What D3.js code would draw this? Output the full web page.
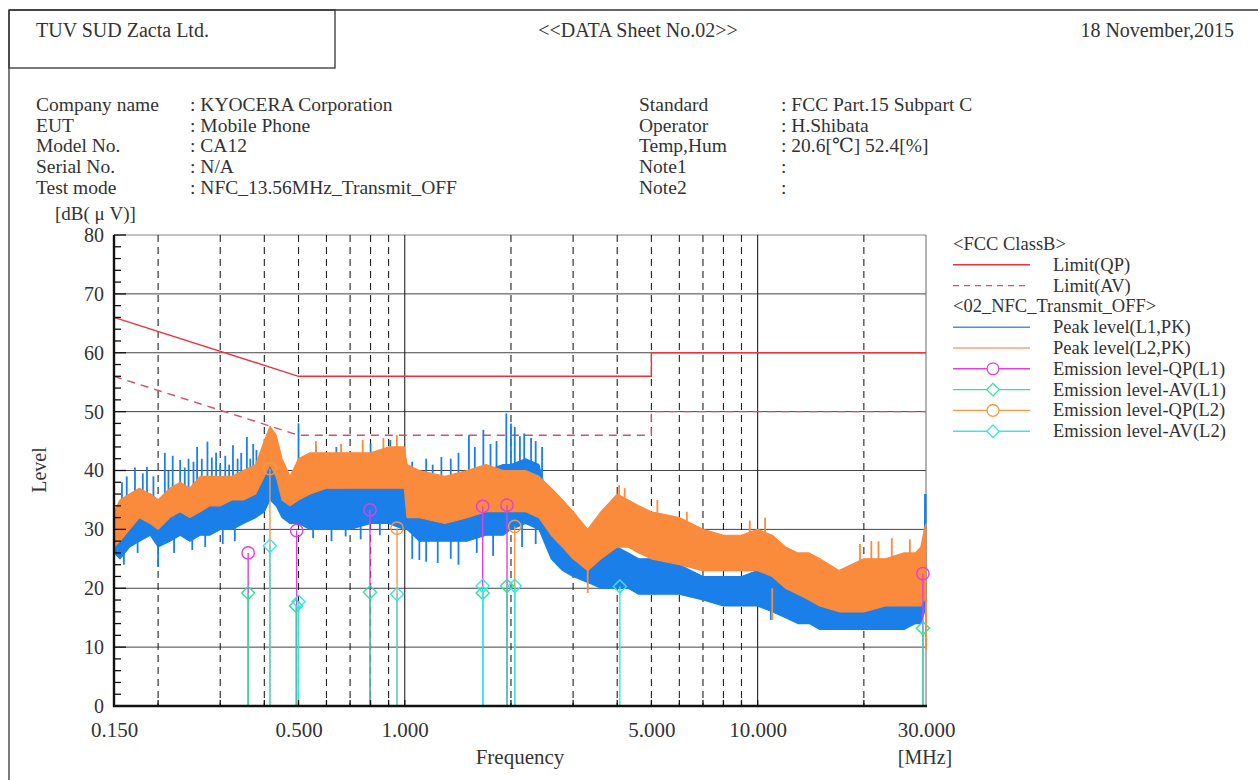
<!DOCTYPE html>
<html>
<head>
<meta charset="utf-8">
<script src="https://cdn.jsdelivr.net/npm/d3@7"></script>
<style>
  body { margin: 0; background: #fff; }
  svg text { font-family: "Liberation Serif", "DejaVu Serif", serif; fill: #333; }
</style>
</head>
<body>
<div id="chart"></div>
<script>
// ---- data read from the sheet ----
var yTicks = [0, 10, 20, 30, 40, 50, 60, 70, 80];
var xTicks = [0.15, 0.5, 1, 5, 10, 30];
var gridFreqs = [0.2, 0.3, 0.4, 0.5, 0.6, 0.7, 0.8, 0.9, 1, 2, 3, 4, 5, 6, 7, 8, 9, 10, 20];

// FCC class B limits
var limitFreq = [0.15, 0.5, 0.5, 5, 5, 30];
var limitQP = [66, 56, 56, 56, 60, 60];
var limitAV = [56, 46, 46, 46, 50, 50];

// envelope of the peak scans (upper / lower edge of the noise band)
var bandFreq = [0.150, 0.156, 0.166, 0.177, 0.190, 0.200, 0.216, 0.231, 0.246, 0.263, 0.280, 0.300,
  0.324, 0.349, 0.378, 0.400, 0.415, 0.432, 0.449, 0.473, 0.500, 0.539, 0.600, 0.700, 0.800, 0.900,
  0.997, 1.015, 1.10, 1.30, 1.50, 1.70, 1.90, 2.00, 2.20, 2.40, 2.60, 2.80, 3.00, 3.30, 3.60, 4.00,
  4.30, 4.60, 5.00, 6.00, 7.00, 8.00, 9.00, 10.0, 11.0, 12.0, 13.0, 14.0, 15.0, 17.0, 20.0, 23.0,
  26.0, 28.0, 29.0, 29.7, 30.0];
var l1Hi = [33, 34, 35, 36, 36, 35, 36, 37, 36, 37, 37, 37, 38, 38, 39, 41, 42, 40, 38, 37, 38, 37, 37, 37, 37.5, 38,
  38, 38, 37, 38, 39, 40, 41, 41, 42, 41, 33, 29, 27, 26, 26, 27, 26, 25, 25, 24, 22, 22, 22, 23, 22, 20, 19, 18,
  17, 17, 17, 17, 17, 17, 19, 30, 36];
var l1Lo = [26, 25, 27, 28, 29, 27, 28, 29, 28, 29, 29, 30, 30, 31, 32, 33, 35, 34, 32, 31, 31, 30, 30, 30, 31, 31,
  30, 30, 28, 28, 28, 29, 29, 30, 31, 30, 25, 23, 22, 21, 20, 20, 20, 19, 19, 19, 18, 17, 17, 17, 16, 15, 14, 14,
  13, 13, 13, 13, 13, 14, 14, 16, 18];
var l2Hi = [33, 35, 36, 37, 36, 35, 37, 38, 37, 39, 39, 39, 39, 40, 41, 45, 47.5, 46, 42, 39, 42, 43, 43, 43, 43, 44,
  44, 41, 40, 39, 40, 41, 40, 40, 40, 39, 37, 35, 33, 30, 33, 36, 35, 34, 33, 32, 30, 29, 29, 30, 29, 27, 26, 26,
  25, 23, 25, 25, 26, 26, 27, 30, 31];
var l2Lo = [27, 28, 30, 32, 31, 30, 32, 33, 32, 33, 34, 34, 35, 35, 36, 39, 41, 39, 35, 34, 35, 36, 37, 37, 37, 37,
  37, 32, 32, 31, 32, 33, 33, 33, 33, 32, 29, 27, 25, 23, 25, 27, 27, 26, 25, 24, 23, 23, 23, 23, 22, 20, 19, 18,
  17, 16, 16, 17, 17, 17, 17, 18, 18];

// single spikes sticking out of the band: [MHz, from dB, to dB]
var l1Spikes = [[0.158, 32, 38], [0.163, 32, 39], [0.172, 34, 40.5], [0.181, 34, 39.5], [0.186, 34, 40.6],
  [0.194, 34, 39], [0.209, 34, 43], [0.214, 34, 40], [0.220, 34, 42.5], [0.231, 35, 41.8], [0.238, 35, 40.5],
  [0.244, 35, 42], [0.252, 35, 41.5], [0.258, 35, 44], [0.266, 35, 42], [0.276, 35, 44.9], [0.284, 35, 42.2],
  [0.292, 35, 43], [0.300, 35, 41], [0.310, 36, 42.5], [0.318, 36, 41], [0.326, 36, 44.3], [0.336, 36, 42],
  [0.344, 36, 43], [0.357, 36, 45.7], [0.365, 36, 42], [0.372, 37, 44.5], [0.380, 37, 43.5], [0.388, 37, 42],
  [0.500, 37, 48], [0.560, 36, 44], [0.640, 36, 44], [0.800, 36, 44.6], [0.910, 37, 45.2],
  [1.05, 37, 41.5], [1.15, 36, 42], [1.20, 36, 41], [1.27, 37, 42.3], [1.35, 37, 42], [1.42, 37, 43],
  [1.52, 38, 46], [1.58, 38, 44], [1.67, 39, 46.9], [1.75, 39, 44.5], [1.82, 40, 45], [1.94, 40, 49.7],
  [2.00, 40, 48], [2.05, 40, 47.4], [2.12, 41, 45.8], [2.18, 41, 46.3], [2.28, 41, 45.5], [2.35, 40, 45],
  [2.45, 38, 44],
  // downward
  [0.160, 28, 24], [0.175, 29, 26], [0.200, 30, 23.6], [0.222, 30, 26], [0.250, 30, 26.5], [0.272, 30, 27],
  [0.305, 31, 27.5], [0.330, 31, 28], [0.550, 31, 28.5], [0.620, 31, 28], [0.680, 31, 28.8], [0.750, 31, 28.3],
  [0.850, 32, 29], [1.05, 31, 25], [1.10, 30, 24.8], [1.15, 30, 24.5], [1.24, 30, 24.3], [1.35, 30, 25],
  [1.42, 30, 24], [1.60, 30, 26], [1.78, 30, 25.5], [2.15, 32, 27], [2.35, 31, 27.5], [10.9, 17, 14.6],
  [29.8, 30, 36]];
var l2Spikes = [[0.56, 42, 45], [0.66, 42, 44.5], [0.76, 42, 45.2], [0.87, 43, 45.5], [0.95, 43, 46],
  [4.05, 35, 37.5], [4.20, 34, 37], [5.20, 32, 35], [6.30, 30, 33], [9.50, 28, 31.5], [10.5, 29, 32],
  [3.30, 24, 19.2], [11.0, 20, 14.6], [19.5, 24, 27.5], [21.0, 24, 28], [22.0, 24, 28], [24.0, 25, 28.5],
  [27.0, 25, 28.3], [30.0, 18, 9.5]];

// final measurements
var qpL1 = [[0.360, 26.0], [0.494, 29.8], [0.797, 33.3], [1.663, 33.9], [1.949, 34.1], [29.4, 22.5]];
var avL1 = [[0.360, 19.2], [0.492, 17.0], [0.797, 19.3], [1.663, 19.2], [1.949, 20.4], [29.4, 13.2]];
var qpL2 = [[0.415, 40.3], [0.951, 30.2], [2.050, 30.5]];
var avL2 = [[0.415, 27.2], [0.500, 17.7], [0.951, 19.0], [1.663, 20.4], [2.050, 20.4], [4.07, 20.3]];

var headerLeft = "TUV SUD Zacta Ltd.";
var headerMid = "<<DATA Sheet No.02>>";
var headerRight = "18 November,2015";
var infoLeft = [["Company name", ": KYOCERA Corporation"], ["EUT", ": Mobile Phone"], ["Model No.", ": CA12"],
  ["Serial No.", ": N/A"], ["Test mode", ": NFC_13.56MHz_Transmit_OFF"]];
var infoRight = [["Standard", ": FCC Part.15 Subpart C"], ["Operator", ": H.Shibata"],
  ["Temp,Hum", ": 20.6[\u2103] 52.4[%]"], ["Note1", ":"], ["Note2", ":"]];

var legendItems = [
  { title: "<FCC ClassB>" },
  { label: "Limit(QP)", color: "#e8343e", dash: null },
  { label: "Limit(AV)", color: "#d2506a", dash: "6,5" },
  { title: "<02_NFC_Transmit_OFF>" },
  { label: "Peak level(L1,PK)", color: "#4a92dc" },
  { label: "Peak level(L2,PK)", color: "#f0a878" },
  { label: "Emission level-QP(L1)", color: "#e040e0", mark: "circle" },
  { label: "Emission level-AV(L1)", color: "#30e29a", mark: "diamond" },
  { label: "Emission level-QP(L2)", color: "#f39a44", mark: "circle" },
  { label: "Emission level-AV(L2)", color: "#3fe3e3", mark: "diamond" }
];

// ---- drawing ----
var W = 1258, H = 780;
var svg = d3.select("#chart").append("svg").attr("width", W).attr("height", H);

var x = d3.scaleLog().domain([0.15, 30]).range([114, 926]);
var y = d3.scaleLinear().domain([0, 80]).range([706, 235]);

// page frame + header box
svg.append("line").attr("x1", 9).attr("y1", 10).attr("x2", W).attr("y2", 10).attr("stroke", "#333").attr("stroke-width", 1.3);
svg.append("line").attr("x1", 9).attr("y1", 10).attr("x2", 9).attr("y2", H).attr("stroke", "#333").attr("stroke-width", 1.3);
svg.append("rect").attr("x", 9).attr("y", 10).attr("width", 326).attr("height", 58)
  .attr("fill", "none").attr("stroke", "#333").attr("stroke-width", 1.3);

svg.append("text").attr("x", 36).attr("y", 37).style("font-size", "20px").text(headerLeft);
svg.append("text").attr("x", 638).attr("y", 37).attr("text-anchor", "middle").style("font-size", "20px").text(headerMid);
svg.append("text").attr("x", 1234).attr("y", 37).attr("text-anchor", "end").style("font-size", "20px").text(headerRight);

infoLeft.forEach(function (r, i) {
  svg.append("text").attr("x", 36).attr("y", 111 + i * 20.7).style("font-size", "19.5px").text(r[0]);
  svg.append("text").attr("x", 190).attr("y", 111 + i * 20.7).style("font-size", "19.5px").text(r[1]);
});
infoRight.forEach(function (r, i) {
  svg.append("text").attr("x", 639).attr("y", 111 + i * 20.7).style("font-size", "19.5px").text(r[0]);
  svg.append("text").attr("x", 781).attr("y", 111 + i * 20.7).style("font-size", "19.5px").text(r[1]);
});
svg.append("text").attr("x", 55).attr("y", 220).style("font-size", "19px").text("[dB( \u03bc V)]");

// grid
var plot = svg.append("g");
plot.selectAll(".hgrid").data(yTicks).enter().append("line")
  .attr("x1", 114).attr("x2", 926)
  .attr("y1", function (d) { return y(d); }).attr("y2", function (d) { return y(d); })
  .attr("stroke", function (d) { return d === 80 ? "#888" : "#444"; }).attr("stroke-width", 1);
plot.selectAll(".vgrid").data(gridFreqs).enter().append("line")
  .attr("x1", function (d) { return x(d); }).attr("x2", function (d) { return x(d); })
  .attr("y1", 235).attr("y2", 706)
  .attr("stroke", "#222").attr("stroke-width", 1.1)
  .attr("stroke-dasharray", function (d) { return (d === 1 || d === 10) ? null : "7,5"; });
plot.append("line").attr("x1", 926).attr("x2", 926).attr("y1", 235).attr("y2", 706).attr("stroke", "#666");

// limits
var limLine = d3.line().x(function (d, i) { return x(limitFreq[i]); });
plot.append("path").datum(limitQP).attr("fill", "none").attr("stroke", "#e8343e").attr("stroke-width", 1.4)
  .attr("d", limLine.y(function (d) { return y(d); }));
plot.append("path").datum(limitAV).attr("fill", "none").attr("stroke", "#d2506a").attr("stroke-width", 1.4)
  .attr("stroke-dasharray", "8,6").attr("d", limLine.y(function (d) { return y(d); }));

// peak traces
function band(hi, lo, color) {
  var area = d3.area()
    .x(function (d, i) { return x(bandFreq[i]); })
    .y0(function (d, i) { return y(lo[i]); })
    .y1(function (d, i) { return y(hi[i]); });
  plot.append("path").datum(hi).attr("fill", color).attr("stroke", color).attr("stroke-width", 1.2)
    .attr("stroke-linejoin", "bevel").attr("d", area);
}
function spikes(list, color) {
  plot.selectAll(null).data(list).enter().append("line")
    .attr("x1", function (d) { return x(d[0]); }).attr("x2", function (d) { return x(d[0]); })
    .attr("y1", function (d) { return y(d[1]); }).attr("y2", function (d) { return y(d[2]); })
    .attr("stroke", color).attr("stroke-width", 1.8);
}
band(l1Hi, l1Lo, "#1b7fe9");
spikes(l1Spikes, "#1b7fe9");
band(l2Hi, l2Lo, "#fa8a3c");
spikes(l2Spikes, "#fa8a3c");

// measured points with stems
function stems(list, color, mark) {
  var g = plot.append("g");
  g.selectAll("line").data(list).enter().append("line")
    .attr("x1", function (d) { return x(d[0]); }).attr("x2", function (d) { return x(d[0]); })
    .attr("y1", function (d) { return y(d[1]); }).attr("y2", y(0))
    .attr("stroke", color).attr("stroke-width", 1.4);
  var sym = d3.symbol().type(mark === "circle" ? d3.symbolCircle : d3.symbolDiamond2).size(mark === "circle" ? 120 : 110);
  g.selectAll("path").data(list).enter().append("path")
    .attr("transform", function (d) { return "translate(" + x(d[0]) + "," + y(d[1]) + ")"; })
    .attr("d", sym).attr("fill", "none").attr("stroke", color).attr("stroke-width", 1.4);
}
stems(qpL1, "#e040e0", "circle");
stems(avL1, "#30e29a", "diamond");
stems(qpL2, "#f39a44", "circle");
stems(avL2, "#3fe3e3", "diamond");

// axes
var minor = d3.range(0, 81, 2);
plot.selectAll(".ytick").data(minor).enter().append("line")
  .attr("x1", 114).attr("x2", function (d) { return d % 10 === 0 ? 126 : 121; })
  .attr("y1", function (d) { return y(d); }).attr("y2", function (d) { return y(d); })
  .attr("stroke", "#111").attr("stroke-width", 1.3);
plot.selectAll(".xtick").data(gridFreqs).enter().append("line")
  .attr("x1", function (d) { return x(d); }).attr("x2", function (d) { return x(d); })
  .attr("y1", 706).attr("y2", 700).attr("stroke", "#111").attr("stroke-width", 1.3);
plot.append("line").attr("x1", 114).attr("x2", 114).attr("y1", 235).attr("y2", 707).attr("stroke", "#111").attr("stroke-width", 2.4);
plot.append("line").attr("x1", 113).attr("x2", 927).attr("y1", 706).attr("y2", 706).attr("stroke", "#111").attr("stroke-width", 2.4);

var yAxis = svg.append("g").attr("transform", "translate(104,0)")
  .call(d3.axisLeft(y).tickValues(yTicks).tickSize(0).tickPadding(0));
yAxis.select(".domain").remove();
yAxis.selectAll("text").style("font-size", "20px").style("font-family", "Liberation Serif, serif").attr("fill", "#333");

var xAxis = svg.append("g").attr("transform", "translate(0,722)")
  .call(d3.axisBottom(x).tickValues(xTicks).tickFormat(d3.format(".3f")).tickSize(0).tickPadding(0));
xAxis.select(".domain").remove();
xAxis.selectAll("text").attr("dy", "0.71em").style("font-size", "21px").style("font-family", "Liberation Serif, serif").attr("fill", "#333");

svg.append("text").attr("x", 520).attr("y", 764).attr("text-anchor", "middle").style("font-size", "21px").text("Frequency");
svg.append("text").attr("x", 925).attr("y", 764).attr("text-anchor", "middle").style("font-size", "20px").text("[MHz]");
svg.append("text").attr("transform", "translate(46,470) rotate(-90)").attr("text-anchor", "middle")
  .style("font-size", "20px").text("Level");

// legend
var lg = svg.append("g");
legendItems.forEach(function (it, i) {
  var yy = 250 + i * 20.8;
  if (it.title) {
    lg.append("text").attr("x", 953).attr("y", yy).style("font-size", "18.5px").text(it.title);
    return;
  }
  var ly = yy - 6;
  lg.append("line").attr("x1", 953).attr("x2", 1030).attr("y1", ly).attr("y2", ly)
    .attr("stroke", it.color).attr("stroke-width", 1.4).attr("stroke-dasharray", it.dash || null);
  if (it.mark) {
    lg.append("path").attr("transform", "translate(993," + ly + ")")
      .attr("d", d3.symbol().type(it.mark === "circle" ? d3.symbolCircle : d3.symbolDiamond2).size(it.mark === "circle" ? 110 : 100))
      .attr("fill", "#fff").attr("stroke", it.color).attr("stroke-width", 1.3);
  }
  lg.append("text").attr("x", 1053).attr("y", yy).style("font-size", "18.5px").text(it.label);
});
</script>
</body>
</html>
